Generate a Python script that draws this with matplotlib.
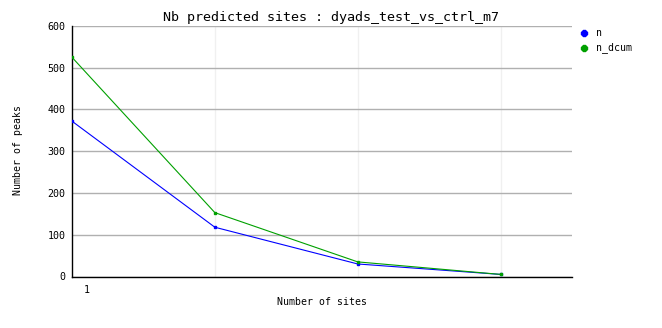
import matplotlib
matplotlib.use("Agg")
import matplotlib.pyplot as plt
import matplotlib.transforms as mtransforms

x_sites = [1, 2, 3, 4]
n = [372, 118, 30, 5]
n_dcum = [525, 153, 35, 5]
yticks = [0, 100, 200, 300, 400, 500, 600]
title = "Nb predicted sites : dyads_test_vs_ctrl_m7"

W, H = 662, 328
fig = plt.figure(figsize=(W / 100, H / 100), dpi=100)
left, right, top, bottom = 72, 572, 26, 276.5
ax = fig.add_axes([left / W, 1 - bottom / H, (right - left) / W, (bottom - top) / H])

mono = "DejaVu Sans Mono"
blue = "#0000ff"
green = "#00a000"

ax.plot(x_sites, n, color=blue, lw=0.8, marker="s", ms=2.0, zorder=3)
ax.plot(x_sites, n_dcum, color=green, lw=0.8, marker="s", ms=2.0, zorder=4)

ax.set_xlim(1, 4.5)
ax.set_ylim(0, 600)
ax.set_yticks(yticks)
ax.set_yticklabels([str(v) for v in yticks], fontfamily=mono, fontsize=7.2)
ax.set_xticks([1])
ax.set_xticklabels(["1"], fontfamily=mono, fontsize=7.2)
ax.set_xticks([2, 3, 4], minor=True)
ax.tick_params(axis="both", which="both", length=0)
ax.tick_params(axis="y", pad=4.5)
ax.tick_params(axis="x", pad=6)
off = mtransforms.ScaledTranslation(14.5 / 100, 0, fig.dpi_scale_trans)
for lab in ax.get_xticklabels():
    lab.set_transform(lab.get_transform() + off)

ax.grid(axis="y", which="major", color="#b0b0b0", lw=1.0)
ax.grid(axis="x", which="minor", color="#f0f0f0", lw=1.0)
ax.grid(axis="x", which="major", visible=False)
ax.set_axisbelow(True)

for s in ["top", "right"]:
    ax.spines[s].set_visible(False)
for s in ["left", "bottom"]:
    ax.spines[s].set_linewidth(1.0)
    ax.spines[s].set_color("black")

fig.text(331 / W, 1 - 18 / H, title, ha="center", va="center", fontfamily=mono, fontsize=9.6)
fig.text(322 / W, 1 - 302 / H, "Number of sites", ha="center", va="center", fontfamily=mono, fontsize=7.1)
fig.text(18 / W, 1 - 150 / H, "Number of peaks", ha="center", va="center", rotation=90, fontfamily=mono, fontsize=7.1)

# legend
for i, (lab, col) in enumerate([("n", blue), ("n_dcum", green)]):
    y = 1 - (33 + 14.5 * i) / H
    fig.lines.append(plt.Line2D([584 / W], [y], marker="8", color=col, ms=4, transform=fig.transFigure, ls="none"))
    fig.text(596 / W, y, lab, ha="left", va="center", fontfamily=mono, fontsize=7.1)

fig.savefig("out.png", dpi=100)
